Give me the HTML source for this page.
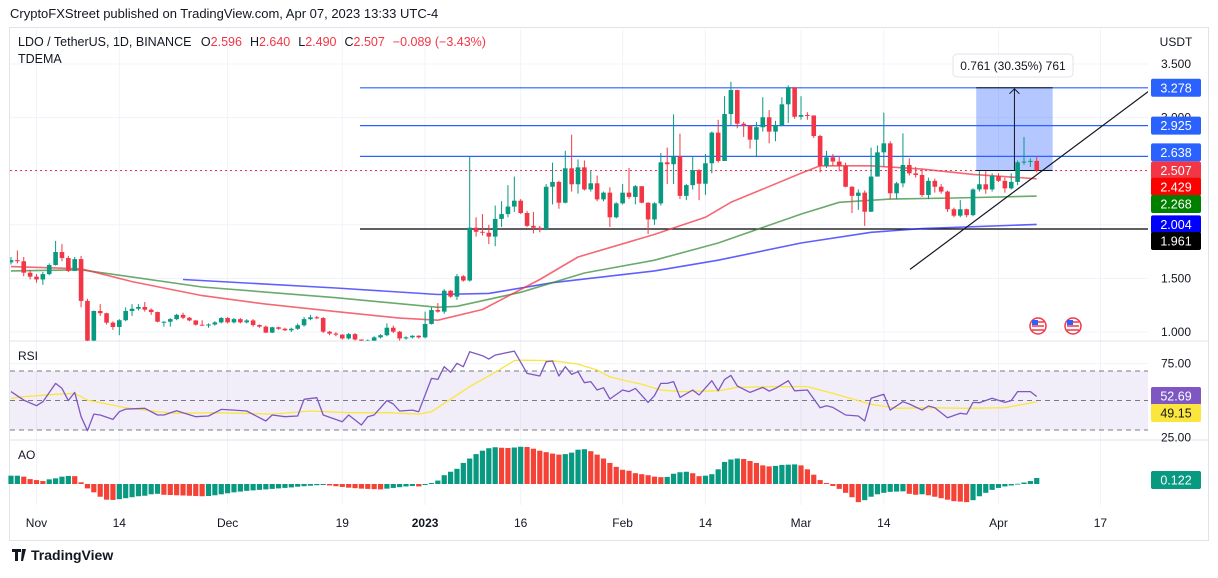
<!DOCTYPE html>
<html><head><meta charset="utf-8">
<style>
html,body{margin:0;padding:0;background:#fff;}
body{width:1218px;height:573px;overflow:hidden;font-family:"Liberation Sans",sans-serif;}
svg text{font-family:"Liberation Sans",sans-serif;}
</style></head>
<body>
<svg id="chart" width="1218" height="573" viewBox="0 0 1218 573" xmlns="http://www.w3.org/2000/svg">
  <defs>
    <clipPath id="mainClip"><rect x="10" y="29" width="1138" height="312"/></clipPath>
    <clipPath id="rsiClip"><rect x="10" y="342" width="1138" height="97"/></clipPath>
  </defs>
  <text x="10" y="18" font-size="13" fill="#131722">CryptoFXStreet published on TradingView.com, Apr 07, 2023 13:33 UTC-4</text>
  <rect x="9.5" y="27.5" width="1199" height="513" fill="#fff" stroke="#e0e3eb"/>
  <g id="grid"></g>
  <g id="main" clip-path="url(#mainClip)"></g>
  <g id="rsi"></g>
  <g id="ao"></g>
  <g id="axis"></g>
  <g>
    <text x="18" y="46" font-size="12.5" fill="#131722">LDO / TetherUS, 1D, BINANCE <tspan dx="6">O</tspan><tspan fill="#f23645">2.596</tspan><tspan dx="8">H</tspan><tspan fill="#f23645">2.640</tspan><tspan dx="8">L</tspan><tspan fill="#f23645">2.490</tspan><tspan dx="8">C</tspan><tspan fill="#f23645">2.507</tspan><tspan dx="8" fill="#f23645">−0.089 (−3.43%)</tspan></text>
    <text x="18" y="63" font-size="12.5" fill="#131722">TDEMA</text>
    <text x="18" y="360" font-size="12" fill="#131722">RSI</text>
    <text x="18" y="459" font-size="12" fill="#131722">AO</text>
  </g>
  <g>
    <path d="M12 549h9v3h-3v9h-3v-9h-3z M22 549h4l-3 12h-2z" fill="#131722"/>
    <text x="31" y="560" font-size="14" font-weight="bold" fill="#131722">TradingView</text>
  </g>
</svg>
<script>
const closes=[1.67,1.66,1.553,1.516,1.49,1.54,1.625,1.746,1.69,1.57,1.68,1.29,0.92,1.196,1.175,1.087,1.047,1.11,1.196,1.217,1.233,1.208,1.186,1.096,1.096,1.12,1.16,1.133,1.108,1.068,1.066,1.07,1.09,1.13,1.09,1.12,1.09,1.108,1.065,1.05,0.994,1.044,1.03,1.016,1.03,1.063,1.12,1.137,1.13,1.003,0.985,0.975,0.94,0.98,0.93,0.92,0.92,0.95,0.97,1.04,1.003,0.94,0.95,0.965,0.95,1.075,1.205,1.19,1.385,1.33,1.52,1.48,1.973,1.935,1.926,1.89,2.055,2.10,2.17,2.225,2.11,1.99,1.973,1.96,2.355,2.40,2.206,2.527,2.378,2.536,2.33,2.387,2.237,2.30,2.07,2.20,2.30,2.26,2.36,2.206,2.05,2.20,2.583,2.565,2.64,2.27,2.37,2.51,2.383,2.574,2.86,2.595,3.033,3.257,2.943,2.925,2.794,2.91,3.003,2.869,2.93,3.124,3.283,3.008,3.024,3.02,2.828,2.55,2.63,2.59,2.55,2.355,2.27,2.30,2.122,2.45,2.676,2.76,2.294,2.387,2.558,2.48,2.465,2.278,2.41,2.355,2.31,2.145,2.085,2.145,2.09,2.33,2.378,2.33,2.455,2.41,2.34,2.40,2.583,2.59,2.596,2.507];
const firstOpen=1.65;
const highs=[1.70,1.76,1.70,1.58,1.54,1.56,1.64,1.85,1.82,1.71,1.70,1.71,1.31,1.20,1.26,1.18,1.10,1.12,1.23,1.26,1.26,1.28,1.22,1.19,1.10,1.13,1.17,1.18,1.14,1.11,1.11,1.08,1.10,1.14,1.14,1.13,1.13,1.12,1.12,1.07,1.06,1.05,1.05,1.04,1.04,1.08,1.14,1.16,1.15,1.14,1.01,1.00,0.98,0.99,0.99,0.93,0.93,0.96,0.98,1.08,1.06,1.01,0.96,0.97,0.97,1.19,1.23,1.27,1.40,1.39,1.54,1.53,2.635,2.07,2.10,2.00,2.18,2.22,2.37,2.45,2.24,2.13,2.12,1.99,2.38,2.58,2.41,2.69,2.84,2.61,2.60,2.50,2.46,2.31,2.35,2.21,2.38,2.53,2.37,2.36,2.21,2.21,2.67,2.72,3.03,2.85,2.38,2.64,2.52,2.66,2.87,2.98,3.20,3.335,3.26,2.96,2.92,2.96,3.19,3.07,2.97,3.19,3.30,3.27,3.20,3.05,3.02,2.84,2.69,2.66,2.64,2.58,2.36,2.33,2.32,2.72,2.74,3.046,2.78,2.40,2.853,2.62,2.54,2.52,2.44,2.43,2.38,2.32,2.16,2.23,2.15,2.34,2.50,2.50,2.48,2.48,2.44,2.48,2.60,2.82,2.62,2.64];
const lows=[1.63,1.64,1.52,1.49,1.46,1.44,1.53,1.62,1.66,1.56,1.57,1.23,0.90,0.90,1.15,1.07,1.02,0.97,1.10,1.15,1.20,1.19,1.16,1.09,1.05,1.05,1.11,1.12,1.10,1.06,1.06,1.04,1.06,1.08,1.08,1.08,1.08,1.08,1.05,1.04,0.99,0.99,1.02,1.01,1.00,1.02,1.05,1.11,1.12,0.99,0.97,0.96,0.93,0.93,0.92,0.91,0.91,0.91,0.94,0.96,0.99,0.92,0.93,0.94,0.94,0.94,1.07,1.18,1.17,1.32,1.30,1.47,1.47,1.89,1.90,1.82,1.80,1.98,2.07,2.12,2.10,1.98,1.92,1.93,1.95,2.19,2.15,2.20,2.31,2.29,2.32,2.31,2.22,2.22,1.98,2.06,2.19,2.24,2.19,2.20,1.914,2.00,2.18,2.38,2.38,2.24,2.23,2.33,2.23,2.28,2.48,2.58,2.63,2.93,2.90,2.82,2.71,2.64,2.87,2.76,2.78,2.92,2.95,2.99,2.98,2.98,2.81,2.49,2.53,2.55,2.50,2.35,2.11,2.14,1.99,2.12,2.45,2.54,2.24,2.24,2.35,2.46,2.44,2.26,2.24,2.30,2.29,2.12,2.07,2.07,2.07,2.08,2.31,2.29,2.31,2.40,2.30,2.33,2.37,2.56,2.54,2.49];
const emaFastIdx=[0,11,19,30,40,51,61,67,74,83,89,101,109,113,124,127,135,143,151,161];
const emaFastVal=[1.61,1.59,1.47,1.34,1.26,1.19,1.13,1.11,1.21,1.49,1.70,1.91,2.07,2.21,2.48,2.55,2.55,2.52,2.47,2.429];
const emaMidIdx=[0,11,30,51,67,70,80,90,101,111,124,130,138,148,161];
const emaMidVal=[1.57,1.58,1.42,1.32,1.23,1.24,1.37,1.55,1.67,1.83,2.10,2.21,2.24,2.25,2.268];
const emaSlowIdx=[27,51,67,75,85,101,111,124,135,143,161];
const emaSlowVal=[1.49,1.41,1.35,1.36,1.46,1.57,1.67,1.83,1.93,1.965,2.004];
const rsiIdx=[0,2,4,5,7,8,9,10,11,12,13,14,16,17,18,21,23,24,26,29,31,33,35,37,40,41,43,45,46,48,49,52,53,55,56,57,59,60,61,63,64,66,67,68,69,70,71,72,74,75,76,79,81,83,84,85,86,87,88,89,90,91,92,93,94,96,97,98,100,101,102,103,104,105,107,108,110,111,112,113,114,116,118,119,120,122,123,125,127,128,129,131,133,134,135,137,138,140,141,143,144,145,147,149,150,151,152,154,156,157,158,160,161];
const rsiVal=[56,50.3,46.5,49.2,61.6,58.2,49.9,55.5,39,29.5,40.8,40.2,37.2,42.4,44.2,44.7,40.2,40.2,43.1,39,39.5,44,43.5,42.9,36.1,40.2,39,39.5,50.8,51.9,40.2,35.6,40.2,33.4,39,40.2,49.9,47.6,42.9,43.5,42.4,65,64.3,72.9,69.1,75.2,72.9,83.1,80.4,78.1,80.8,83.5,68.4,66.6,76.3,76.8,66.6,72.9,67.7,69.5,62.1,62.8,57.1,58.7,51,57.1,56,58.2,48.7,53.3,61.6,61.6,62.8,52.1,57.1,53.7,63.4,56.6,64.3,67,59.8,55.5,58.9,56.4,58.2,63.4,56.6,57.1,45.1,46.5,45.3,40.2,39.5,36.1,51.5,54.2,43.5,49.2,47.6,43.5,46.3,45.1,38.3,41.3,40.8,48.7,48.5,51.5,48.7,49.9,56,56,52.69];
const rsiMaIdx=[0,2,7,10,12,18,23,26,32,41,47,53,59,64,66,72,76,79,80,85,89,92,94,96,99,102,105,111,114,120,125,129,135,139,144,150,156,160,161];
const rsiMaVal=[51.5,52.6,54.2,54.8,50.3,45.1,42.4,41.3,41.7,40.8,42.9,41.7,41.7,40.8,42.4,59.4,69.1,77,77.4,77,74.7,70.7,66,63.9,61,57.1,56,56.6,58.9,59.4,59.4,54.8,47.4,44.7,45.1,44.7,45.1,48.3,49.15];
const aoVal=[0.17,0.17,0.15,0.10,0.08,0.06,0.095,0.115,0.15,0.165,0.16,0.035,-0.09,-0.17,-0.26,-0.32,-0.325,-0.31,-0.29,-0.27,-0.25,-0.24,-0.21,-0.20,-0.22,-0.225,-0.23,-0.235,-0.24,-0.245,-0.25,-0.245,-0.23,-0.21,-0.19,-0.17,-0.155,-0.14,-0.13,-0.12,-0.11,-0.1,-0.09,-0.08,-0.07,-0.055,-0.045,-0.035,-0.025,-0.02,-0.03,-0.045,-0.06,-0.075,-0.085,-0.095,-0.1,-0.105,-0.11,-0.095,-0.08,-0.065,-0.05,-0.04,-0.05,-0.02,0.02,0.07,0.18,0.25,0.31,0.43,0.52,0.61,0.68,0.73,0.75,0.74,0.735,0.745,0.76,0.755,0.72,0.68,0.65,0.62,0.6,0.61,0.64,0.7,0.71,0.67,0.6,0.52,0.43,0.35,0.29,0.27,0.22,0.20,0.18,0.15,0.14,0.145,0.21,0.24,0.25,0.22,0.16,0.17,0.2,0.3,0.45,0.5,0.52,0.51,0.47,0.43,0.38,0.36,0.37,0.39,0.395,0.40,0.38,0.3,0.19,0.08,0.02,-0.04,-0.1,-0.18,-0.27,-0.37,-0.33,-0.26,-0.21,-0.18,-0.16,-0.155,-0.15,-0.2,-0.22,-0.21,-0.23,-0.26,-0.29,-0.32,-0.35,-0.36,-0.37,-0.33,-0.25,-0.18,-0.12,-0.08,-0.05,-0.03,0.005,0.03,0.06,0.122];
const priceTicks=[3.5,3.0,2.5,2.0,1.5,1.0];
const priceTickLabels=["3.500","3.000","2.500","2.000","1.500","1.000"];
const timeTickIdx=[4,17,34,52,65,80,96,109,124,137,155,171];
const timeTickLabels=["Nov","14","Dec","19","2023","16","Feb","14","Mar","14","Apr","17"];
const levelVals=[3.278,2.925,2.638];
const supportVal=1.961;
const lastPrice=2.507;

const NS="http://www.w3.org/2000/svg";
const GREEN="#089981", RED="#f23645";
function X(i){return 11+6.371*i;}
function PY(p){return 64+(3.5-p)*107.2;}
function RY(v){return 400.5-(v-50)*1.475;}
function AY(v){return 484-v*49;}
function mk(parent,tag,attrs){const e=document.createElementNS(NS,tag);for(const k in attrs)e.setAttribute(k,attrs[k]);parent.appendChild(e);return e;}
const grid=document.getElementById('grid'),main=document.getElementById('main'),rsi=document.getElementById('rsi'),ao=document.getElementById('ao'),axis=document.getElementById('axis');

// grid
timeTickIdx.forEach((t,k)=>{const gl=mk(grid,'line',{x1:X(t),x2:X(t),y1:29,y2:505,stroke:'#f0f3fa'});


const tl=mk(axis,'text',{x:X(t),y:527,'font-size':12,'text-anchor':'middle',fill:'#131722','font-weight':timeTickLabels[k]==='2023'?'bold':'normal'});
tl.textContent=timeTickLabels[k];

});
priceTicks.forEach((p,k)=>{const gl=mk(grid,'line',{x1:10,x2:1148,y1:PY(p),y2:PY(p),stroke:'#f0f3fa'});


const tl=mk(axis,'text',{x:1176,y:PY(p)+4,'font-size':12,'text-anchor':'middle',fill:'#131722'});
tl.textContent=priceTickLabels[k];

});
[[341,'rsi-separator'],[440,'ao-separator']].forEach(s=>{const l=mk(grid,'line',{x1:10,x2:1208,y1:s[0],y2:s[0],stroke:'#e0e3eb'});

});
mk(grid,'line',{x1:10,x2:1148,y1:RY(75),y2:RY(75),stroke:'#f0f3fa'});

// level lines
levelVals.forEach(v=>{const l=mk(main,'line',{x1:360,x2:1148,y1:PY(v),y2:PY(v),stroke:'#2962ff','stroke-width':1.2});

});
const sl=mk(main,'line',{x1:360,x2:1148,y1:PY(supportVal),y2:PY(supportVal),stroke:'#000','stroke-width':1.2});


const lp=mk(main,'line',{x1:10,x2:1148,y1:PY(lastPrice),y2:PY(lastPrice),stroke:RED,'stroke-dasharray':'2 3'});



// measure box
const mb=mk(main,'rect',{x:X(151.5),y:PY(3.278),width:X(163.5)-X(151.5),height:PY(lastPrice)-PY(3.278),fill:'rgba(41,98,255,0.35)'});


mk(main,'line',{x1:X(151.5),x2:X(163.5),y1:PY(3.278),y2:PY(3.278),stroke:'#131722'});
mk(main,'line',{x1:X(151.5),x2:X(163.5),y1:PY(lastPrice),y2:PY(lastPrice),stroke:'#131722'});
const ax=X(157.5);
const ar=mk(main,'path',{d:`M${ax} ${PY(lastPrice)}V${PY(3.278)+1}M${ax-5} ${PY(3.278)+6}L${ax} ${PY(3.278)+1}L${ax+5} ${PY(3.278)+6}`,stroke:'#131722',fill:'none'});



// EMA lines
function line(parent,idx,vals,yf,color,w,name){let d='';idx.forEach((i,k)=>{d+=(k?'L':'M')+X(i).toFixed(1)+' '+yf(vals[k]).toFixed(1);});
const p=mk(parent,'path',{d:d,fill:'none',stroke:color,'stroke-width':w,'stroke-linejoin':'round'});

return p;}
line(main,emaSlowIdx,emaSlowVal,PY,'rgba(41,41,255,0.75)',1.6,'ema-slow-line');
line(main,emaMidIdx,emaMidVal,PY,'rgba(56,142,60,0.75)',1.6,'ema-mid-line');
line(main,emaFastIdx,emaFastVal,PY,'rgba(242,54,69,0.75)',1.6,'ema-fast-line');

// candles
closes.forEach((c,i)=>{const o=i?closes[i-1]:firstOpen;const col=c>=o?GREEN:RED;const x=X(i);
const g=mk(main,'g',{});


mk(g,'line',{x1:x,x2:x,y1:PY(highs[i]),y2:PY(lows[i]),stroke:col,'stroke-width':1});
const top=PY(Math.max(o,c)),bot=PY(Math.min(o,c));
mk(g,'rect',{x:x-2.3,y:top,width:4.6,height:Math.max(1,bot-top),fill:col});});

// trend line
const tr=mk(main,'line',{x1:910,y1:PY(1.5)-9,x2:1152,y2:PY(3.278)+1,stroke:'#131722','stroke-width':1.2});



// measure label
const mlg=mk(axis,'g',{});


mk(mlg,'rect',{x:953,y:54,width:120,height:23,rx:4,fill:'#fff',stroke:'#e0e3eb'});
const mt=mk(mlg,'text',{x:1013,y:70,'font-size':12,'text-anchor':'middle',fill:'#131722'});mt.textContent='0.761 (30.35%) 761';

// flags
[1038,1073].forEach(fx=>{const g=mk(main,'g',{});


mk(g,'circle',{cx:fx,cy:326,r:8,fill:'#fff',stroke:RED,'stroke-width':1.5});
[322,326,330].forEach(yy=>mk(g,'line',{x1:fx-6,x2:fx+6,y1:yy,y2:yy,stroke:RED,'stroke-width':1.5}));
mk(g,'rect',{x:fx-6,y:320,width:6,height:5,fill:'#2962ff'});});

// RSI
const rg=mk(rsi,'g',{'clip-path':'url(#rsiClip)'});
const band=mk(rg,'rect',{x:10,y:RY(70),width:1138,height:RY(30)-RY(70),fill:'rgba(126,87,194,0.1)'});


[70,50,30].forEach(v=>mk(rg,'line',{x1:10,x2:1148,y1:RY(v),y2:RY(v),stroke:'#787b86','stroke-dasharray':'5 4','stroke-width':1}));
line(rg,rsiMaIdx,rsiMaVal,RY,'#fbe63e',1.3,'rsi-ma-line');
line(rg,rsiIdx,rsiVal,RY,'#7e57c2',1.3,'rsi-line');
[[75,'75.00'],[25,'25.00']].forEach(t=>{const tx=mk(axis,'text',{x:1176,y:RY(t[0])+4,'font-size':12,'text-anchor':'middle',fill:'#131722'});tx.textContent=t[1];

});

// AO
aoVal.forEach((v,i)=>{const prev=i?aoVal[i-1]:v;const col=v>=prev?GREEN:'#f44336';
const y0=AY(0),y1=AY(v);
const b=mk(ao,'rect',{x:X(i)-2.6,y:Math.min(y0,y1),width:5.2,height:Math.max(0.8,Math.abs(y1-y0)),fill:col});

});

// axis labels
function tag(v,y,bg,txt,name){const g=mk(axis,'g',{});


mk(g,'rect',{x:1151,y:y-9,width:50,height:18,rx:2,fill:bg});
const t=mk(g,'text',{x:1176,y:y+4.5,'font-size':12.5,'text-anchor':'middle',fill:txt});t.textContent=v;}
tag('3.278',PY(3.278),'#2962ff','#fff','level-label-3278');
tag('2.925',PY(2.925),'#2962ff','#fff','level-label-2925');
tag('2.638',PY(2.638)-4,'#2962ff','#fff','level-label-2638');
tag('2.507',PY(2.507),'#f23645','#fff','last-price-label');
tag('2.429',PY(2.429)+8,'#ff0000','#fff','ema-fast-label');
tag('2.268',204,'#008000','#fff','ema-mid-label');
tag('2.004',PY(2.004),'#0000ff','#fff','ema-slow-label');
tag('1.961',241,'#000000','#fff','support-label');
tag('52.69',396,'#7e57c2','#fff','rsi-value-label');
tag('49.15',413,'#fbe63e','#131722','rsi-ma-value-label');
tag('0.122',480,'#089981','#fff','ao-value-label');
const ut=mk(axis,'text',{x:1176,y:46,'font-size':12,'text-anchor':'middle',fill:'#131722'});ut.textContent='USDT';


</script>
</body></html>
